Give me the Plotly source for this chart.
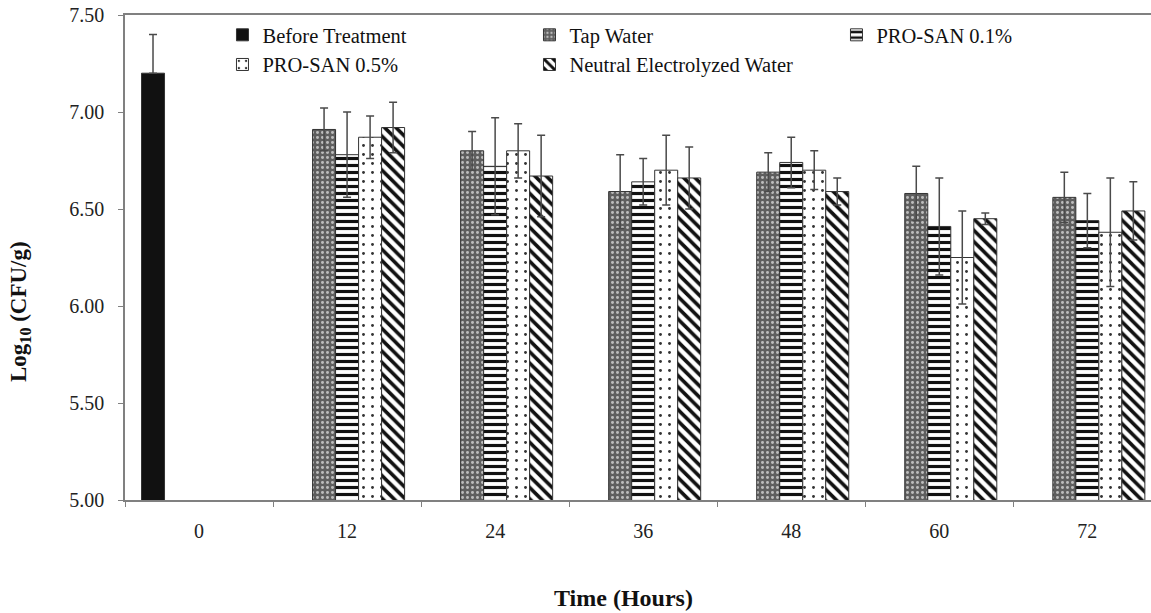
import plotly.graph_objects as go

categories = ["0", "12", "24", "36", "48", "60", "72"]

before_vals = [7.20, None, None, None, None, None, None]
before_err = [0.20, 0, 0, 0, 0, 0, 0]

tap_vals = [None, 6.91, 6.80, 6.59, 6.69, 6.58, 6.56]
tap_err = [0, 0.11, 0.10, 0.19, 0.10, 0.14, 0.13]

pro01_vals = [None, 6.78, 6.72, 6.64, 6.74, 6.41, 6.44]
pro01_err = [0, 0.22, 0.25, 0.12, 0.13, 0.25, 0.14]

pro05_vals = [None, 6.87, 6.80, 6.70, 6.70, 6.25, 6.38]
pro05_err = [0, 0.11, 0.14, 0.18, 0.10, 0.24, 0.28]

new_vals = [None, 6.92, 6.67, 6.66, 6.59, 6.45, 6.49]
new_err = [0, 0.13, 0.21, 0.16, 0.07, 0.03, 0.15]

y_ticks = [5.0, 5.5, 6.0, 6.5, 7.0, 7.5]

FONT = "Liberation Serif"
EB = dict(type="data", visible=True, color="#4a4a4a", thickness=1.5, width=4)

def eb(arr, minus=None):
    d = dict(EB)
    d["array"] = arr
    if minus is not None:
        d["symmetric"] = False
        d["arrayminus"] = minus
    return d

fig = go.Figure()
fig.add_trace(go.Bar(
    name="Before Treatment", x=categories, y=before_vals,
    error_y=eb(before_err, [0] * len(before_err)),
    marker=dict(color="#111111", line=dict(color="#333333", width=1)),
))
fig.add_trace(go.Bar(
    name="Tap Water", x=categories, y=tap_vals, error_y=eb(tap_err),
    marker=dict(color="#686868", line=dict(color="#333333", width=1),
                pattern=dict(shape=".", fgcolor="#bdbdbd", bgcolor="#5e5e5e",
                             size=5, solidity=0.28, fillmode="replace")),
))
fig.add_trace(go.Bar(
    name="PRO-SAN 0.1%", x=categories, y=pro01_vals, error_y=eb(pro01_err),
    marker=dict(color="white", line=dict(color="#333333", width=1),
                pattern=dict(shape="-", fgcolor="#111111", bgcolor="white",
                             size=7, solidity=0.45, fillmode="replace")),
))
fig.add_trace(go.Bar(
    name="PRO-SAN 0.5%", x=categories, y=pro05_vals, error_y=eb(pro05_err),
    marker=dict(color="white", line=dict(color="#333333", width=1),
                pattern=dict(shape=".", fgcolor="#333333", bgcolor="white",
                             size=9, solidity=0.08, fillmode="replace")),
))
fig.add_trace(go.Bar(
    name="Neutral Electrolyzed Water", x=categories, y=new_vals, error_y=eb(new_err),
    marker=dict(color="white", line=dict(color="#333333", width=1),
                pattern=dict(shape="\\", fgcolor="#111111", bgcolor="white",
                             size=8, solidity=0.45, fillmode="replace")),
))

fig.update_layout(
    width=1151, height=613,
    margin=dict(l=125, r=0, t=15, b=113),
    paper_bgcolor="white", plot_bgcolor="white",
    barmode="group", bargap=0.223, bargroupgap=0,
    font=dict(family=FONT, size=20, color="#222222"),
    showlegend=True,
    legend=dict(
        orientation="h", x=0.095, y=1.0, xanchor="left", yanchor="top",
        entrywidth=262, entrywidthmode="pixels", itemwidth=30,
        font=dict(family=FONT, size=20.5, color="#111111"),
        bgcolor="rgba(0,0,0,0)", traceorder="normal", tracegroupgap=0,
    ),
    xaxis=dict(
        type="category", range=[-0.5, 6.43],
        showline=True, linecolor="#808080", linewidth=2, mirror=True,
        ticks="outside", tickson="boundaries", ticklen=5, tickcolor="#808080",
        showgrid=False, zeroline=False,
        tickfont=dict(family=FONT, size=20, color="#222222"),
        ticklabelstandoff=12,
    ),
    yaxis=dict(
        range=[5.0, 7.5], tickvals=y_ticks, tickformat=".2f",
        showline=True, linecolor="#808080", linewidth=1.5,
        ticks="outside", ticklen=5, tickcolor="#808080",
        showgrid=False, zeroline=False,
        tickfont=dict(family=FONT, size=20, color="#222222"),
        ticklabelstandoff=10,
    ),
    annotations=[
        dict(text="<b>Log<sub>10</sub> (CFU/g)</b>", xref="paper", yref="paper",
             x=(20 - 125) / 1026, y=(500 - 312) / 485, xanchor="center", yanchor="middle",
             textangle=-90, showarrow=False,
             font=dict(family=FONT, size=23, color="#111111")),
        dict(text="<b>Time (Hours)</b>", xref="paper", yref="paper",
             x=(623 - 125) / 1026, y=(500 - 598) / 485, xanchor="center", yanchor="middle",
             showarrow=False,
             font=dict(family=FONT, size=24, color="#111111")),
    ],
)

fig.write_html("out.html")
